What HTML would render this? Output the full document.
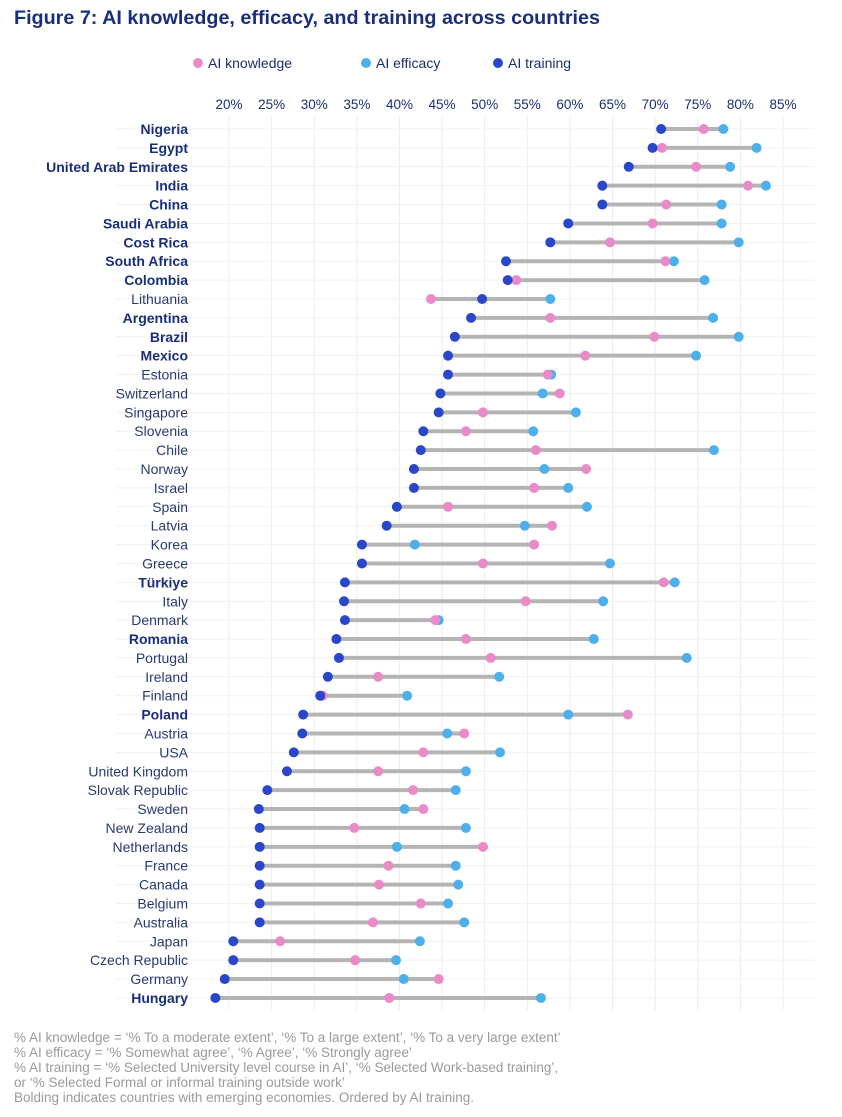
<!DOCTYPE html>
<html><head><meta charset="utf-8"><style>
body{margin:0;background:#fff;width:842px;height:1112px;overflow:hidden;font-family:"Liberation Sans",sans-serif}
</style></head><body>
<svg id="chart" width="842" height="1112" xmlns="http://www.w3.org/2000/svg">
<text x="14" y="24" font-size="19" font-weight="bold" fill="#1a2f7a" textLength="586" lengthAdjust="spacingAndGlyphs">Figure 7: AI knowledge, efficacy, and training across countries</text>
<g font-size="14" fill="#1a2f6e">
<circle cx="198" cy="63" r="5" fill="#e98bc9"/><text x="208" y="68">AI knowledge</text>
<circle cx="366" cy="63" r="5" fill="#4eb0ea"/><text x="376" y="68">AI efficacy</text>
<circle cx="498" cy="63" r="5" fill="#2a46c9"/><text x="508" y="68">AI training</text>
</g>
<g id="grid"></g><g id="ticks"></g><g id="rows"></g>
<g font-size="13.5" fill="#9a9a9a">
<text x="14" y="1042">% AI knowledge = ‘% To a moderate extent’, ‘% To a large extent’, ‘% To a very large extent’</text>
<text x="14" y="1057">% AI efficacy = ‘% Somewhat agree’, ‘% Agree’, ‘% Strongly agree’</text>
<text x="14" y="1072">% AI training = ‘% Selected University level course in AI’, ‘% Selected Work-based training’,</text>
<text x="14" y="1087">or ‘% Selected Formal or informal training outside work’</text>
<text x="14" y="1102">Bolding indicates countries with emerging economies. Ordered by AI training.</text>
</g>
</svg>
<script>
const countries=["Nigeria","Egypt","United Arab Emirates","India","China","Saudi Arabia","Cost Rica","South Africa","Colombia","Lithuania","Argentina","Brazil","Mexico","Estonia","Switzerland","Singapore","Slovenia","Chile","Norway","Israel","Spain","Latvia","Korea","Greece","Türkiye","Italy","Denmark","Romania","Portugal","Ireland","Finland","Poland","Austria","USA","United Kingdom","Slovak Republic","Sweden","New Zealand","Netherlands","France","Canada","Belgium","Australia","Japan","Czech Republic","Germany","Hungary"];
const emerging=["Nigeria","Egypt","United Arab Emirates","India","China","Saudi Arabia","Cost Rica","South Africa","Colombia","Argentina","Brazil","Mexico","Türkiye","Romania","Poland","Hungary"];
const training=[70.7,69.7,66.9,63.8,63.8,59.8,57.7,52.5,52.7,49.7,48.4,46.5,45.7,45.7,44.8,44.6,42.8,42.5,41.7,41.7,39.7,38.5,35.6,35.6,33.6,33.5,33.6,32.6,32.9,31.6,30.7,28.7,28.6,27.6,26.8,24.5,23.5,23.6,23.6,23.6,23.6,23.6,23.6,20.5,20.5,19.5,18.4];
const knowledge=[75.7,70.8,74.8,80.9,71.3,69.7,64.7,71.2,53.7,43.7,57.7,69.9,61.8,57.4,58.8,49.8,47.8,56.0,61.9,55.8,45.7,57.9,55.8,49.8,71.0,54.8,44.2,47.8,50.7,37.5,31.0,66.8,47.6,42.8,37.5,41.6,42.8,34.7,49.8,38.7,37.6,42.5,36.9,26.0,34.8,44.6,38.8];
const efficacy=[78.0,81.9,78.8,83.0,77.8,77.8,79.8,72.2,75.8,57.7,76.8,79.8,74.8,57.8,56.8,60.7,55.7,76.9,57.0,59.8,62.0,54.7,41.8,64.7,72.3,63.9,44.6,62.8,73.7,51.7,40.9,59.8,45.6,51.8,47.8,46.6,40.6,47.8,39.7,46.6,46.9,45.7,47.6,42.4,39.6,40.5,56.6];
const tickVals=[20,25,30,35,40,45,50,55,60,65,70,75,80,85];
const NS="http://www.w3.org/2000/svg";
const x=v=>229+(v-20)*8.523;
const y=i=>129+i*18.89;
function mk(p,tag,attrs){const e=document.createElementNS(NS,tag);for(const k in attrs)e.setAttribute(k,attrs[k]);p.appendChild(e);return e;}
const grid=document.getElementById('grid'),ticks=document.getElementById('ticks'),rows=document.getElementById('rows');
tickVals.forEach(t=>{
 const l=mk(grid,'line',{x1:x(t),x2:x(t),y1:116,y2:1010,stroke:'#ececec','stroke-width':1});
 
 
 const tx=mk(ticks,'text',{x:x(t),y:109,'text-anchor':'middle','font-size':13.5,fill:'#1a2f6e'});
 tx.textContent=t+'%';
 
 
});
countries.forEach((c,i)=>{
 const g=mk(rows,'g',{});
 
 
 mk(g,'line',{x1:116,x2:815,y1:y(i),y2:y(i),stroke:'#f1f1f1','stroke-width':1});
 const b=emerging.includes(c);
 const lb=mk(g,'text',{x:188,y:y(i)+5,'text-anchor':'end','font-size':14,'font-weight':b?'bold':'normal',fill:b?'#1a2f7a':'#2a3a70'});
 lb.textContent=c;
 
 
 const vals=[training[i],knowledge[i],efficacy[i]];
 const ln=mk(g,'line',{x1:x(Math.min(...vals)),x2:x(Math.max(...vals)),y1:y(i),y2:y(i),stroke:'#b4b4b4','stroke-width':4});
 
 
 [[efficacy[i],'#4eb0ea','efficacy-dot'],[knowledge[i],'#e98bc9','knowledge-dot'],[training[i],'#2a46c9','training-dot']].forEach(([v,col,n])=>{
  const d=mk(g,'circle',{cx:x(v),cy:y(i),r:5,fill:col});
  
  
 });
});
</script>
</body></html>
